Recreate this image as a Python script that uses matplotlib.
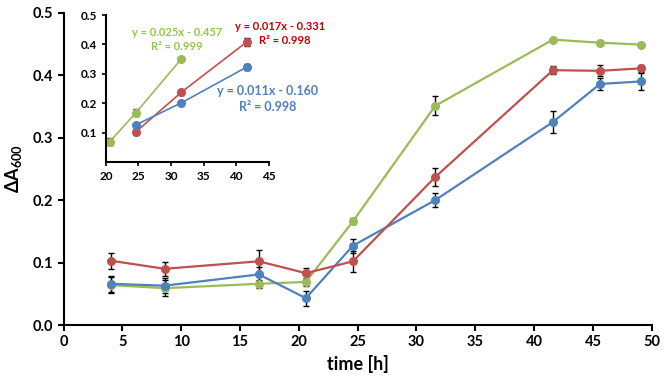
import matplotlib.pyplot as plt

plt.rcParams['font.family'] = ['Lato', 'DejaVu Sans']
plt.rcParams['font.weight'] = 'bold'
plt.rcParams['mathtext.fontset'] = 'custom'
plt.rcParams['mathtext.rm'] = 'Lato:weight=bold'
plt.rcParams['mathtext.bf'] = 'Lato:weight=bold'
plt.rcParams['mathtext.it'] = 'Lato:weight=bold'

time_h = [4, 8.6, 16.6, 20.6, 24.6, 31.6, 41.6, 45.6, 49.1]

red = [0.103, 0.090, 0.102, 0.083, 0.102, 0.237, 0.408, 0.407, 0.411]
red_err = [0.013, 0.011, 0.018, 0.009, 0.017, 0.015, 0.006, 0.009, 0.006]
blue = [0.066, 0.063, 0.081, 0.043, 0.127, 0.200, 0.325, 0.386, 0.390]
blue_err = [0.013, 0.012, 0.012, 0.012, 0.011, 0.011, 0.017, 0.010, 0.013]
green = [0.064, 0.059, 0.066, 0.069, 0.166, 0.351, 0.457, 0.452, 0.449]
green_err = [0.013, 0.013, 0.006, 0.006, 0.005, 0.015, 0.003, 0.003, 0.003]

# linear ranges shown in the inset
green_fit_t = [20.6, 24.6, 31.6]
green_fit = [0.070, 0.168, 0.351]
green_fit_err = [0.012, 0.012, 0.004]
red_fit_t = [24.6, 31.6, 41.6]
red_fit = [0.103, 0.238, 0.408]
red_fit_err = [0.010, 0.008, 0.014]
blue_fit_t = [24.6, 31.6, 41.6]
blue_fit = [0.127, 0.202, 0.323]
blue_fit_err = [0.007, 0.005, 0.010]

c_red = '#C0504D'
c_blue = '#4F81BD'
c_green = '#9BBB59'

fig = plt.figure(figsize=(6.7, 3.86), dpi=100)
ax = fig.add_axes([0.0948, 0.158, 0.878, 0.809])

for y, e, c in [(green, green_err, c_green), (blue, blue_err, c_blue), (red, red_err, c_red)]:
    ax.errorbar(time_h, y, yerr=e, color=c, marker='o', markersize=5.5, lw=1.6,
                ecolor='black', elinewidth=1, capsize=2, capthick=1)

ax.set_xlim(0, 50)
ax.set_ylim(0, 0.5)
ax.set_xticks(range(0, 51, 5))
ax.set_yticks([0, 0.1, 0.2, 0.3, 0.4, 0.5])
ax.set_yticklabels(['0.0', '0.1', '0.2', '0.3', '0.4', '0.5'])
ax.spines['top'].set_visible(False)
ax.spines['right'].set_visible(False)
ax.spines['left'].set_linewidth(1.5)
ax.spines['bottom'].set_linewidth(1.5)
ax.tick_params(direction='out', width=1.5, length=4, labelsize=10.5)
ax.set_xlabel('time [h]', fontsize=13, fontweight='bold', labelpad=4)
ax.set_ylabel(r'$\Delta$A$_{600}$', fontsize=13, fontweight='bold', labelpad=6)

ins = fig.add_axes([0.158, 0.5795, 0.243, 0.3816])
for t, y, e, c in [(green_fit_t, green_fit, green_fit_err, c_green),
                   (red_fit_t, red_fit, red_fit_err, c_red),
                   (blue_fit_t, blue_fit, blue_fit_err, c_blue)]:
    ins.errorbar(t, y, yerr=e, color=c, marker='o', markersize=5.5, lw=1.2,
                 ecolor='black', elinewidth=1, capsize=2, capthick=1)
ins.set_xlim(20, 45)
ins.set_ylim(0, 0.5)
ins.set_xticks(range(20, 46, 5))
ins.set_yticks([0.1, 0.2, 0.3, 0.4, 0.5])
ins.spines['top'].set_visible(False)
ins.spines['right'].set_visible(False)
ins.spines['left'].set_linewidth(1.5)
ins.spines['bottom'].set_linewidth(1.5)
ins.tick_params(direction='out', width=1.2, length=3, labelsize=8.5)

fig.text(177 / 670, 1 - 33 / 386, 'y = 0.025x - 0.457', color='#92C64E', fontsize=8,
         fontweight='bold', ha='center', va='center')
fig.text(177 / 670, 1 - 46 / 386, 'R² = 0.999', color='#92C64E', fontsize=8,
         fontweight='bold', ha='center', va='center')
fig.text(280 / 670, 1 - 26 / 386, 'y = 0.017x - 0.331', color='#C00000', fontsize=8,
         fontweight='bold', ha='center', va='center')
fig.text(285 / 670, 1 - 40 / 386, 'R² = 0.998', color='#C00000', fontsize=8,
         fontweight='bold', ha='center', va='center')
fig.text(268 / 670, 1 - 91 / 386, 'y = 0.011x - 0.160', color='#4F81BD', fontsize=9,
         fontweight='bold', ha='center', va='center')
fig.text(268 / 670, 1 - 107 / 386, 'R² = 0.998', color='#4F81BD', fontsize=9,
         fontweight='bold', ha='center', va='center')

fig.savefig('out.png', dpi=100)
